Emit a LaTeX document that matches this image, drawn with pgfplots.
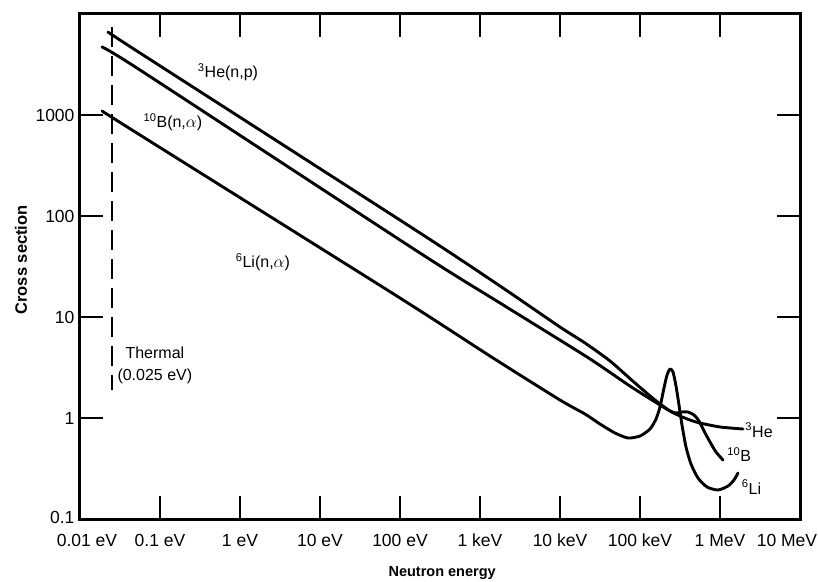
\documentclass[border=0pt]{standalone}
\usepackage{fontspec}
\setmainfont{Liberation Sans}
\usepackage{pgfplots}
\pgfplotsset{compat=1.18}

% Cross sections (barn) of the three neutron-capture reactions against energy (eV)
\begin{document}
\begin{tikzpicture}
\begin{axis}[
  name=ax,
  scale only axis,
  width=720pt, height=505pt,
  xmode=log, ymode=log,
  xmin=1e-2, xmax=1e7,
  ymin=0.1, ymax=1e4,
  axis line style={line width=3pt},
  xminorticks=false, yminorticks=false,
  xtick={1e-2,1e-1,1,1e1,1e2,1e3,1e4,1e5,1e6,1e7},
  xticklabels={\kern14pt 0.01 eV,0.1 eV,1 eV,10 eV,100 eV,1 keV,10 keV,100 keV,1 MeV,10 MeV\kern26pt},
  ytick={0.1,1,10,100,1000},
  yticklabels={\raisebox{3pt}{0.1},1,10,100,1000},
  major tick length=23pt,
  tick style={line width=1.8pt, black},
  tick label style={font=\fontsize{17.5}{20}\selectfont},
  xticklabel style={anchor=north, text height=13pt, text depth=4pt, yshift=-11pt},
  yticklabel style={xshift=-2pt},
  xlabel={Neutron energy},
  ylabel={Cross section},
  xlabel style={font=\bfseries\fontsize{14.5}{16}\selectfont, at={(rel axis cs:0.503,-0.107)}, anchor=center},
  ylabel style={font=\bfseries\fontsize{16.5}{18}\selectfont, at={(rel axis cs:-0.0819,0.513)}, anchor=center},
  clip=false,
  every axis plot/.append style={line width=2.9pt, black, line join=round, line cap=round},
]

% thermal energy marker
\addplot[line width=2pt, dash pattern=on 20pt off 9pt, line cap=butt] coordinates {(0.025,7420) (0.025,1.89)};

% 3He(n,p)
\addplot[smooth, tension=0.4] coordinates {
  (0.02239,6637) (0.05623,4111) (177.8,67.9) (1778,20.28) (10000,7.96)
  (20535,5.53) (42170,3.67) (86596,2.221) (153993,1.507) (237137,1.173)
  (316228,1.047) (421697,0.955) (562341,0.892) (1e6,0.815) (1.939e6,0.778)
};

% 10B(n,alpha)
\addplot[smooth, tension=0.4] coordinates {
  (0.01884,4713) (0.05623,2790) (177.8,43.0) (1778,13.76) (21752,4.02)
  (74989,2.07) (177828,1.345) (237137,1.173)
  (281838,1.121) (334965,1.147) (398107,1.147) (473151,1.071) (546387,0.934)
  (630957,0.744) (749894,0.579) (891251,0.4606) (1.0902e6,0.3838)
};

% 6Li(n,alpha)
\addplot[smooth, tension=0.4] coordinates {
  (0.01884,1096) (0.05623,634) (100,15.42) (1454,3.93) (10000,1.507)
  (20535,1.095) (31623,0.872) (48697,0.710) (70795,0.634) (1e5,0.663)
  (133352,0.778) (158489,0.977) (177828,1.285) (199526,1.982) (217638,2.666)
  (237137,3.055) (258523,2.854) (281838,2.074) (307262,1.345) (334965,0.852)
  (375837,0.516) (434062,0.350) (530884,0.2545) (687771,0.2075) (944061,0.1937)
  (1.2589e6,0.2122) (1.4962e6,0.2433) (1.6788e6,0.2853)
};

\begin{scope}[every node/.style={font=\fontsize{16}{18}\selectfont, inner sep=0pt}]
\node at (rel axis cs:0.2056,0.885) {\textsuperscript{3}He(n,p)};
\node at (rel axis cs:0.129,0.786) {\textsuperscript{10}B(n,$\alpha$)};
\node at (rel axis cs:0.254,0.509) {\textsuperscript{6}Li(n,$\alpha$)};
\node at (rel axis cs:0.104,0.329) {Thermal};
\node at (rel axis cs:0.104,0.283) {(0.025 eV)};
\node[anchor=west] at (rel axis cs:0.924,0.176) {\textsuperscript{3}He};
\node[anchor=west] at (rel axis cs:0.899,0.127) {\textsuperscript{10}B};
\node[anchor=west] at (rel axis cs:0.919,0.063) {\textsuperscript{6}Li};
\end{scope}
\end{axis}
\pgfresetboundingbox
\useasboundingbox ([shift={(-80pt,-62pt)}]ax.south west) rectangle ([shift={(18pt,14pt)}]ax.north east);
\end{tikzpicture}
\end{document}
